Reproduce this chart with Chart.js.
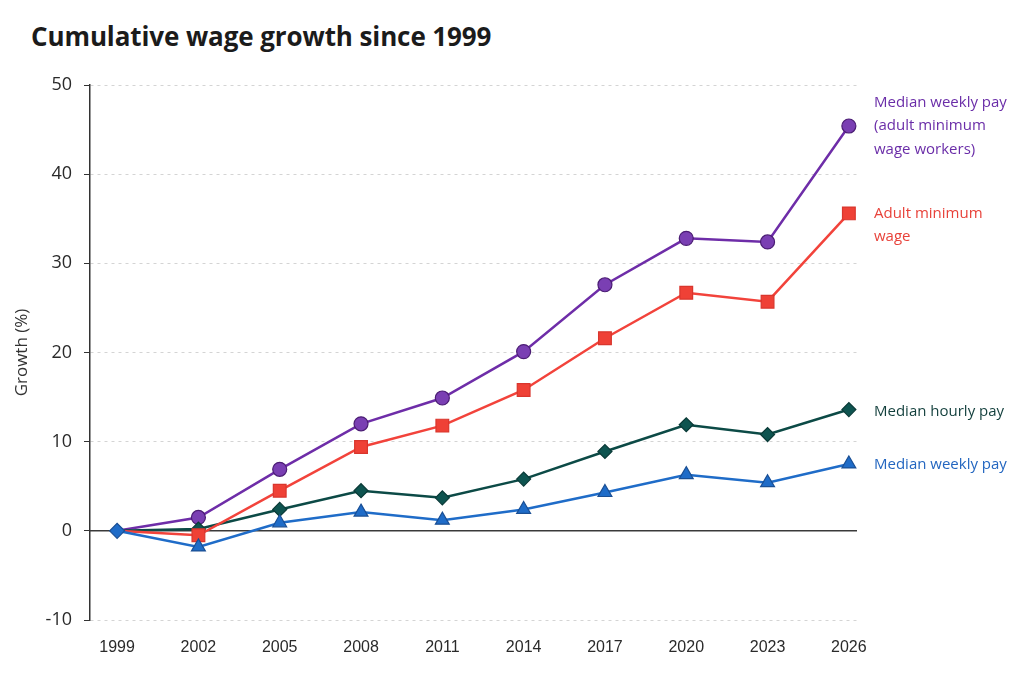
<!DOCTYPE html>
<html lang="en">
<head>
  <meta charset="UTF-8">
  <title>Cumulative wage growth since 1999</title>
  <script src="https://cdn.jsdelivr.net/npm/chart.js"></script>
  <style>
    body { margin:0; background:#fff; font-family:'Open Sans', 'Noto Sans', Arial, sans-serif; }
    .wrap { position:relative; width:1024px; height:683px; }
    .title { position:absolute; left:31px; top:18px; font-size:26px; font-weight:700; color:#1b1b1b; letter-spacing:-0.1px; }
    canvas { position:absolute; left:0; top:0; }
  </style>
</head>
<body>
<div class="wrap">
  <div class="title">Cumulative wage growth since 1999</div>
  <canvas id="chart" width="1024" height="683"></canvas>
</div>
<script>
const years = [1999, 2002, 2005, 2008, 2011, 2014, 2017, 2020, 2023, 2026];
const medianWeeklyMinWage = [0, 1.5, 6.9, 12.0, 14.9, 20.1, 27.6, 32.8, 32.4, 45.4];
const adultMinimumWage    = [0, -0.5, 4.5, 9.4, 11.8, 15.8, 21.6, 26.7, 25.7, 35.6];
const medianHourlyPay     = [0, 0.2, 2.4, 4.5, 3.7, 5.8, 8.9, 11.9, 10.8, 13.6];
const medianWeeklyPay     = [0, -1.8, 0.9, 2.1, 1.2, 2.4, 4.3, 6.3, 5.4, 7.5];
const yTicks = [-10, 0, 10, 20, 30, 40, 50];

const pts = arr => arr.map((v, i) => ({ x: years[i], y: v }));
// the shared 1999 origin shows only one marker
const hideFirst = r => c => c.dataIndex === 0 ? 0 : r;

// labels at the right end of each line
const endLabels = {
  id: 'endLabels',
  afterDatasetsDraw(chart) {
    const ctx = chart.ctx;
    const x = chart.chartArea.right + 17;
    ctx.save();
    ctx.font = '15px "Open Sans", "Noto Sans", sans-serif';
    ctx.textBaseline = 'middle';
    ctx.textAlign = 'left';
    chart.data.datasets.forEach((ds, i) => {
      const meta = chart.getDatasetMeta(i);
      const last = meta.data[meta.data.length - 1];
      let y = last.y + ds.labelShift;
      ctx.fillStyle = ds.labelColor;
      ds.endLabel.forEach(t => { ctx.fillText(t, x, y); y += 23.5; });
    });
    ctx.restore();
  }
};

// solid zero line
const zeroLine = {
  id: 'zeroLine',
  beforeDatasetsDraw(chart) {
    const y = chart.scales.y.getPixelForValue(0);
    const ctx = chart.ctx;
    ctx.save();
    ctx.strokeStyle = '#3a3a3a';
    ctx.lineWidth = 1.5;
    ctx.beginPath();
    ctx.moveTo(chart.chartArea.left, y);
    ctx.lineTo(chart.chartArea.right, y);
    ctx.stroke();
    ctx.restore();
  }
};

new Chart(document.getElementById('chart'), {
  type: 'line',
  data: {
    datasets: [
      {
        data: pts(medianWeeklyPay),
        borderColor: '#1f6cc8', backgroundColor: '#1f6cc8',
        pointBorderColor: '#1a4f94',
        pointStyle: c => c.dataIndex === 0 ? 'rectRot' : 'triangle',
        pointRadius: c => c.dataIndex === 0 ? 7.5 : 8,
        endLabel: ['Median weekly pay'], labelShift: 1, labelColor: '#2366c0'
      },
      {
        data: pts(adultMinimumWage),
        borderColor: '#f2433b', backgroundColor: '#ef4136',
        pointBorderColor: '#d9362d',
        pointStyle: 'rect', pointRadius: hideFirst(9),
        endLabel: ['Adult minimum', 'wage'], labelShift: 0, labelColor: '#e8423a'
      },
      {
        data: pts(medianHourlyPay),
        borderColor: '#0c4a46', backgroundColor: '#0e5450',
        pointBorderColor: '#0a3a37',
        pointStyle: 'rectRot', pointRadius: hideFirst(7),
        endLabel: ['Median hourly pay'], labelShift: 2, labelColor: '#123f3c'
      },
      {
        data: pts(medianWeeklyMinWage),
        borderColor: '#6e2da8', backgroundColor: '#7a3fb3',
        pointBorderColor: '#4b1d74',
        pointStyle: 'circle', pointRadius: hideFirst(7),
        endLabel: ['Median weekly pay', '(adult minimum', 'wage workers)'], labelShift: -23.5, labelColor: '#6a2da8'
      }
    ]
  },
  options: {
    responsive: false,
    animation: false,
    elements: {
      line: { borderWidth: 2.5, tension: 0 },
      point: { borderWidth: 1.2 }
    },
    layout: { padding: { top: 85, right: 167, bottom: 20, left: 8 } },
    plugins: {
      legend: { display: false },
      tooltip: { enabled: false }
    },
    scales: {
      x: {
        type: 'linear',
        min: 1998, max: 2026.3,
        afterFit: s => { s.height = 43; },
        afterBuildTicks: s => { s.ticks = years.map(v => ({ value: v })); },
        grid: { display: false, drawTicks: false },
        border: { display: false },
        ticks: {
          padding: 18,
          color: '#2a2a2a',
          font: { family: '"Liberation Sans Narrow", "Liberation Sans", sans-serif', size: 16 },
          callback: v => String(v)
        }
      },
      y: {
        min: -10, max: 50,
        afterFit: s => { s.width = 82; },
        afterBuildTicks: s => { s.ticks = yTicks.map(v => ({ value: v })); },
        title: {
          display: true, text: 'Growth (%)',
          color: '#333', font: { family: '"Open Sans", sans-serif', size: 17 }
        },
        grid: {
          color: '#d4d4d4', lineWidth: 1,
          tickColor: '#333', tickLength: 6
        },
        border: { display: true, color: '#333', width: 1.5, dash: [3, 4] },
        ticks: {
          padding: 12,
          color: '#2a2a2a',
          font: { family: '"Open Sans", sans-serif', size: 18 }
        }
      }
    }
  },
  plugins: [zeroLine, endLabels]
});
</script>
</body>
</html>
